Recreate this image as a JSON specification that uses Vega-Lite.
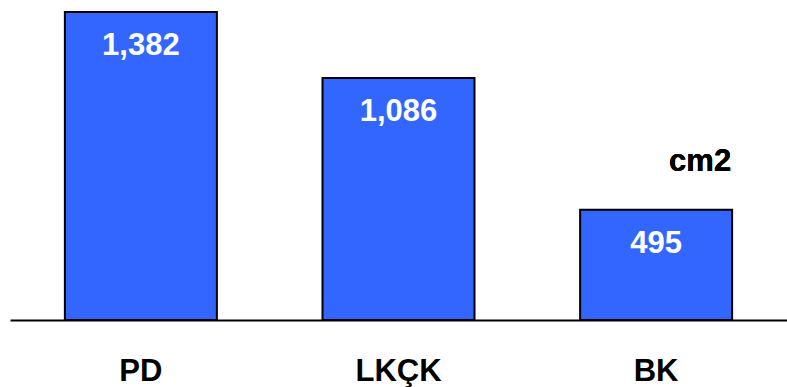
{
  "$schema": "https://vega.github.io/schema/vega-lite/v6.json",
  "width": 777,
  "height": 320,
  "autosize": "none",
  "padding": {"left": 10, "top": 0, "right": 0, "bottom": 67},
  "background": "white",
  "config": {
    "view": {"stroke": null},
    "font": "Liberation Sans"
  },
  "data": {
    "values": [
      {"group": "PD", "area": 1382},
      {"group": "LKÇK", "area": 1086},
      {"group": "BK", "area": 495}
    ]
  },
  "encoding": {
    "x": {
      "field": "group",
      "type": "nominal",
      "sort": null,
      "scale": {"paddingInner": 0.41, "paddingOuter": 0.213},
      "axis": {
        "title": null,
        "ticks": false,
        "tickSize": 0,
        "domainColor": "black",
        "domainWidth": 2,
        "labelAngle": 0,
        "labelFont": "Liberation Sans",
        "labelFontSize": 31,
        "labelFontWeight": "bold",
        "labelColor": "black",
        "labelBaseline": "alphabetic",
        "labelPadding": 60
      }
    },
    "y": {
      "field": "area",
      "type": "quantitative",
      "scale": {"domain": [0, 1436], "nice": false, "zero": true},
      "axis": null
    }
  },
  "layer": [
    {
      "mark": {"type": "bar", "color": "#3366FF", "stroke": "black", "strokeWidth": 2}
    },
    {
      "mark": {
        "type": "text",
        "color": "white",
        "fontSize": 31,
        "fontWeight": "bold",
        "baseline": "alphabetic",
        "align": "center",
        "dy": 43
      },
      "encoding": {
        "text": {"field": "area", "type": "quantitative", "format": ",d"}
      }
    },
    {
      "mark": {
        "type": "text",
        "color": "black",
        "fontSize": 31,
        "fontWeight": "bold",
        "baseline": "alphabetic",
        "align": "center",
        "dx": 44
      },
      "encoding": {
        "x": {"datum": "BK"},
        "y": {"datum": 669},
        "text": {"value": "cm2"}
      }
    }
  ]
}
